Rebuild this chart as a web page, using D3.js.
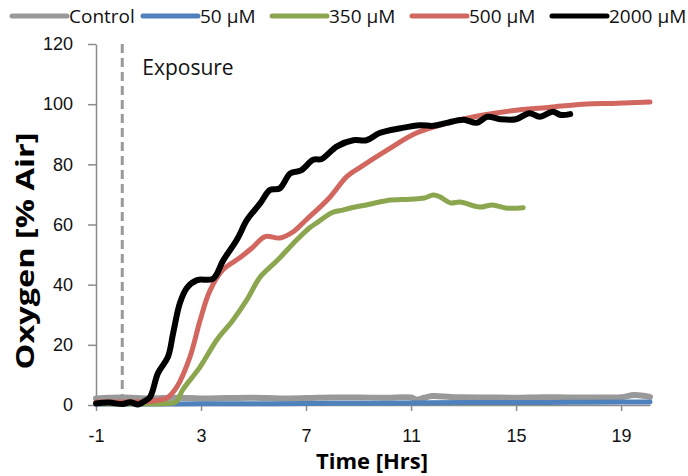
<!DOCTYPE html>
<html>
<head>
<meta charset="utf-8">
<script src="https://cdn.jsdelivr.net/npm/d3@7"></script>
<style>
  body { margin: 0; background: #fff; }
  svg { display: block; font-family: "Open Sans", sans-serif; }
  .axis path, .axis line { stroke: #8c8c8c; stroke-width: 1.5; }
  .axis text { font-size: 18px; fill: #111; }
</style>
</head>
<body>
<svg id="chart" width="688" height="476"></svg>
<script>
// series names / colours
var seriesNames = ["Control", "50 \u00b5M", "350 \u00b5M", "500 \u00b5M", "2000 \u00b5M"];
var seriesColors = ["#999999", "#4f81bd", "#8ba64f", "#d1675f", "#000000"];

// time [hrs] and oxygen [% air]
var controlTime = [-1, 0, 1, 2, 3, 4, 5, 6, 7, 8, 9, 10, 11, 11.2, 11.5, 11.8, 12.5, 13, 14, 15, 16, 17, 18, 19, 19.5, 20.1];
var controlVals = [2.2, 2.5, 2.2, 2.4, 2.2, 2.3, 2.4, 2.2, 2.3, 2.5, 2.5, 2.4, 2.5, 1.8, 2.4, 3, 2.7, 2.6, 2.5, 2.4, 2.6, 2.5, 2.5, 2.6, 3.3, 2.7];

var uM50Time = [-1, 1, 3, 5, 7, 9, 11, 13, 15, 17, 19, 20.1];
var uM50Vals = [0.3, 0.3, 0.4, 0.4, 0.5, 0.6, 0.7, 0.8, 0.8, 0.9, 1, 1];

var uM350Time = [-1, 0, 1, 2, 2.1, 2.3, 2.96, 3.6, 4.2, 4.75, 5.25, 5.9, 6.66, 7.15, 7.4, 8.0, 8.4, 8.7, 9.3, 10.1, 10.96, 11.5, 11.85, 12.1, 12.5, 12.87, 13.6, 14.1, 14.6, 15.27];
var uM350Vals = [0.5, 0.4, 0.4, 0.8, 1.5, 5, 12.6, 21.6, 28, 35, 42.5, 48, 55, 59, 60.5, 64, 64.8, 65.5, 66.5, 68, 68.4, 68.8, 69.8, 69.2, 67.2, 67.5, 65.8, 66.5, 65.5, 65.6];

var uM500Time = [-1, 0, 1, 1.36, 1.7, 2.08, 2.58, 2.96, 3.34, 3.84, 4.49, 4.98, 5.44, 6.0, 6.5, 7.0, 7.9, 8.56, 9.06, 10.1, 11.2, 12.5, 13.75, 15.0, 16.3, 17.55, 18.85, 20.1];
var uM500Vals = [1, 1, 1.2, 1.6, 2.3, 6, 16, 28, 38, 45, 49, 52.5, 56, 55.5, 57.5, 61.5, 69, 76, 79, 84.8, 90.4, 94, 96.4, 98, 99, 100, 100.3, 100.7];

var uM2000Time = [-1, -0.5, 0, 0.3, 0.6, 0.8, 1.06, 1.36, 1.74, 1.94, 2.2, 2.47, 2.85, 3.46, 3.84, 4.37, 4.75, 5.25, 5.63, 6.0, 6.4, 6.81, 7.27, 7.6, 8.18, 8.8, 9.3, 9.8, 10.6, 11.34, 11.85, 12.36, 13, 13.5, 13.9, 14.4, 15.0, 15.5, 15.9, 16.4, 16.7, 17.06];
var uM2000Vals = [0.5, 0.8, 0.3, 0.9, 0.2, 1, 2.7, 10.6, 16, 24, 34, 39, 41.5, 42, 48, 55, 61.5, 67, 71.5, 72, 77, 78, 81.5, 81.8, 86, 88, 88, 90.4, 92, 93, 92.8, 93.8, 94.8, 93.8, 95.8, 95, 95, 97, 95.8, 97.5, 96.4, 96.7];

var xTicks = [-1, 3, 7, 11, 15, 19];
var yTicks = [0, 20, 40, 60, 80, 100, 120];
var exposureTime = 0;

var allTimes = [controlTime, uM50Time, uM350Time, uM500Time, uM2000Time];
var allVals = [controlVals, uM50Vals, uM350Vals, uM500Vals, uM2000Vals];
var lineWidths = [6, 5, 5, 5, 6];
var legendX = [12, 143, 272, 412, 552];

var svg = d3.select("#chart");

var x = d3.scaleLinear().domain([-1, 20.1]).range([96, 650]);
var y = d3.scaleLinear().domain([0, 120]).range([405, 44]);

// axes
svg.append("g")
  .attr("class", "axis")
  .attr("transform", "translate(" + x(-1) + ",0)")
  .call(d3.axisLeft(y).tickValues(yTicks).tickSize(8).tickSizeOuter(0).tickPadding(15));

svg.append("g")
  .attr("class", "axis")
  .attr("transform", "translate(0," + y(0) + ")")
  .call(d3.axisBottom(x).tickValues(xTicks).tickSize(6).tickSizeOuter(0).tickPadding(18)
    .tickFormat(function(d){ return String(d) }));

// exposure marker
svg.append("line")
  .attr("x1", x(exposureTime)).attr("x2", x(exposureTime))
  .attr("y1", y(120)).attr("y2", y(0))
  .attr("stroke", "#999").attr("stroke-width", 3)
  .attr("stroke-dasharray", "9,5");

svg.append("text")
  .attr("x", x(exposureTime) + 20).attr("y", 75)
  .style("font-size", "21px").style("fill", "#111")
  .text("Exposure");

// series
var line = d3.line()
  .x(function(d){ return x(d[0]) })
  .y(function(d){ return y(d[1]) })
  .curve(d3.curveCatmullRom.alpha(0.5));

allTimes.forEach(function(times, i){
  var pts = times.map(function(t, j){ return [t, allVals[i][j]] });
  svg.append("path")
    .datum(pts)
    .attr("d", line)
    .attr("fill", "none")
    .attr("stroke", seriesColors[i])
    .attr("stroke-width", lineWidths[i])
    .attr("stroke-linejoin", "round")
    .attr("stroke-linecap", "round");
});

// axis titles
svg.append("text")
  .attr("transform", "translate(34,251) rotate(-90)")
  .attr("text-anchor", "middle")
  .attr("textLength", 237)
  .attr("lengthAdjust", "spacingAndGlyphs")
  .style("font-size", "25px").style("font-weight", "bold")
  .text("Oxygen [% Air]");

svg.append("text")
  .attr("x", 372).attr("y", 469)
  .attr("text-anchor", "middle")
  .style("font-size", "22px").style("font-weight", "bold")
  .text("Time [Hrs]");

// legend
seriesNames.forEach(function(name, i){
  var lx = legendX[i];
  svg.append("line")
    .attr("x1", lx).attr("x2", lx + 55)
    .attr("y1", 16).attr("y2", 16)
    .attr("stroke", seriesColors[i])
    .attr("stroke-width", 5)
    .attr("stroke-linecap", "round");
  svg.append("text")
    .attr("x", lx + 57).attr("y", 23)
    .style("font-size", "19px").style("fill", "#111")
    .text(name);
});
</script>
</body>
</html>
